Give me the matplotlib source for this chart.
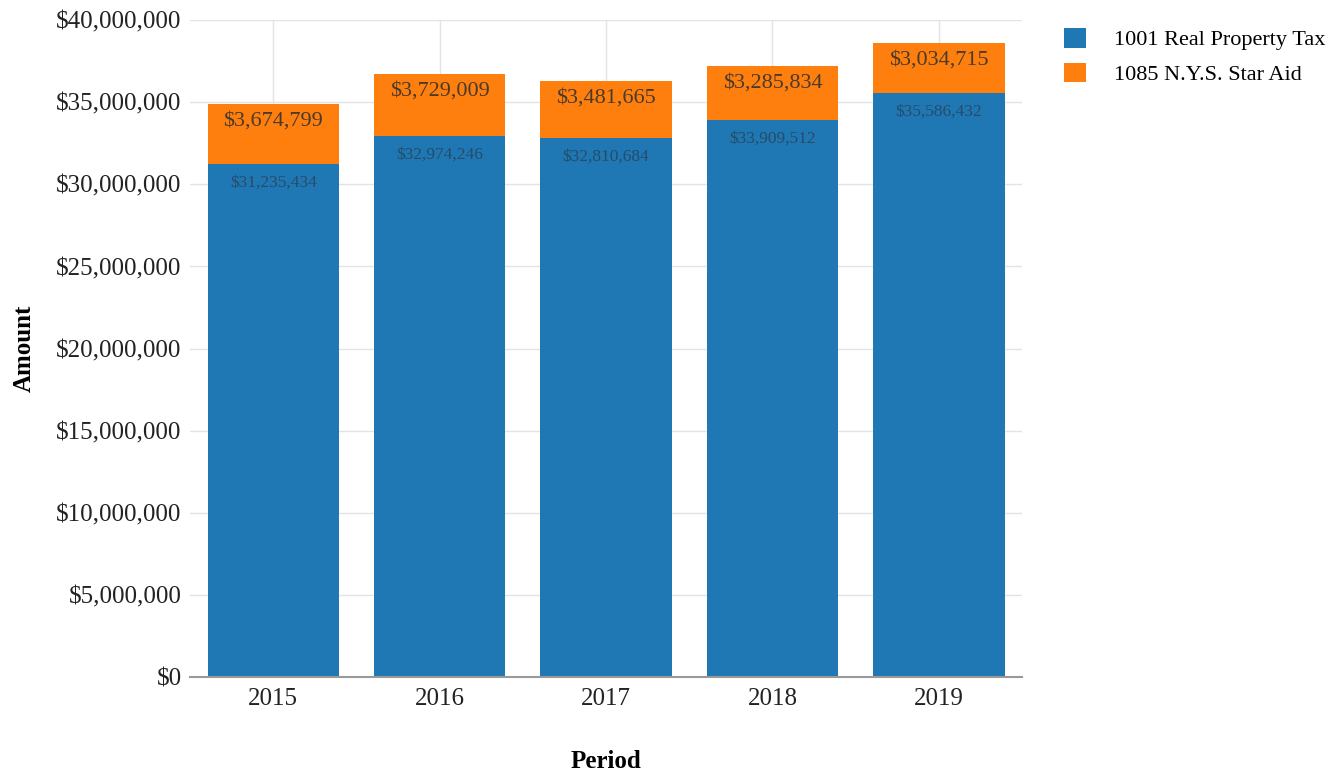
import matplotlib
matplotlib.use("Agg")
import matplotlib.pyplot as plt
from matplotlib.ticker import FuncFormatter, MultipleLocator

periods = ["2015", "2016", "2017", "2018", "2019"]
real_property_tax = [31235434, 32974246, 32810684, 33909512, 35586432]
star_aid = [3674799, 3729009, 3481665, 3285834, 3034715]
series_names = ["1001 Real Property Tax", "1085 N.Y.S. Star Aid"]

plt.rcParams['font.family'] = ['Liberation Serif', 'DejaVu Serif']

fig = plt.figure(figsize=(13.43, 7.75), dpi=100)
ax = fig.add_axes([0.1415, 0.1265, 0.6195, 0.8475])

blue = "#1f77b4"
orange = "#ff7f0e"
x = list(range(len(periods)))
b1 = ax.bar(x, real_property_tax, width=0.79, color=blue, label=series_names[0], zorder=2)
b2 = ax.bar(x, star_aid, width=0.79, bottom=real_property_tax, color=orange,
            label=series_names[1], zorder=2)

for xi, v1, v2 in zip(x, real_property_tax, star_aid):
    ax.text(xi, v1 - 650000, f"${v1:,}", ha="center", va="top", fontsize=12.5,
            color="#2a3a4a", alpha=0.7, zorder=3)
    ax.text(xi, v1 + v2 - 450000, f"${v2:,}", ha="center", va="top", fontsize=16,
            color="#4a3a2a", zorder=3)

ax.set_xlim(-0.5, 4.5)
ax.set_ylim(0, 40000000)
ax.yaxis.set_major_locator(MultipleLocator(5000000))
ax.yaxis.set_major_formatter(FuncFormatter(lambda v, p: f"${int(v):,}"))
ax.set_xticks(x)
ax.set_xticklabels(periods)
ax.tick_params(axis="both", labelsize=18, colors="#222222", length=0)
ax.tick_params(axis="y", pad=6)
ax.tick_params(axis="x", pad=8)

ax.grid(True, color="#e3e3e3", linewidth=1, zorder=0)
for s in ["top", "right", "left"]:
    ax.spines[s].set_visible(False)
ax.spines["bottom"].set_color("#999999")
ax.spines["bottom"].set_linewidth(1.5)

ax.set_xlabel("Period", fontsize=18, fontweight="bold", labelpad=29)
ax.set_ylabel("Amount", fontsize=18, fontweight="bold", labelpad=15)

leg = fig.legend(handles=[b1, b2], labels=series_names, loc="upper left",
                 bbox_to_anchor=(0.777, 0.990), frameon=False, fontsize=16,
                 handlelength=1.0, handleheight=1.0, handletextpad=1.25,
                 labelspacing=0.55)

fig.savefig("out.png", dpi=100)
